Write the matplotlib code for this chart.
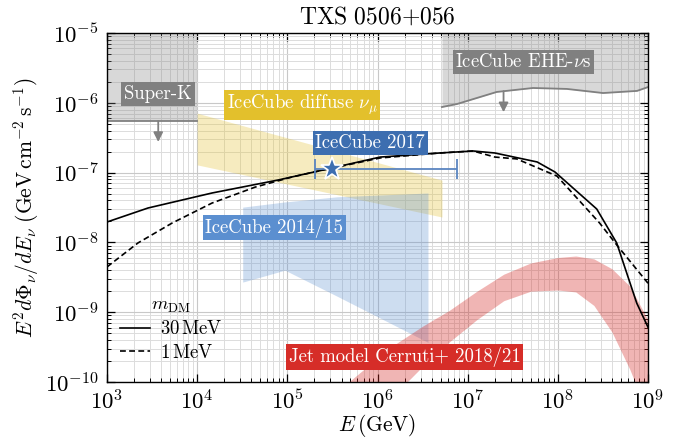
import numpy as np
import matplotlib
matplotlib.use('Agg')
import matplotlib.pyplot as plt
from matplotlib.ticker import LogLocator, NullFormatter
from matplotlib.lines import Line2D

plt.rcParams.update({
    'font.family': 'serif',
    'font.serif': ['cmr10'],
    'mathtext.fontset': 'cm',
    'axes.formatter.use_mathtext': True,
})

# ---------------- data ----------------
# DM-induced neutrino flux, m_DM = 30 MeV (solid)
E_30 = [1e3, 2.85e3, 1.46e4, 7.9e4, 2.19e5, 1.07e6, 4.9e6, 1.15e7, 2.0e7,
        5.9e7, 9.3e7, 2.7e8, 4.5e8, 7.5e8, 1e9]
F_30 = [1.96e-8, 3.11e-8, 5.1e-8, 7.83e-8, 1.05e-7, 1.67e-7, 1.91e-7, 2.04e-7,
        1.91e-7, 1.42e-7, 1.02e-7, 3.01e-8, 9.8e-9, 1.35e-9, 6.1e-10]
# m_DM = 1 MeV (dashed)
E_1 = [1e3, 2.2e3, 5.3e3, 1.46e4, 4.4e4, 1.13e5, 2.19e5, 1.07e6, 4.9e6,
       1.15e7, 2.0e7, 3.5e7, 9.8e7, 2.9e8, 4.5e8, 1e9]
F_1 = [4.45e-9, 9.8e-9, 1.9e-8, 3.66e-8, 6.2e-8, 8.65e-8, 1.05e-7, 1.62e-7,
       1.91e-7, 2.04e-7, 1.67e-7, 1.57e-7, 8.9e-8, 1.9e-8, 9.2e-9, 2.6e-9]

# Jet model Cerruti+ 2018/21 band
E_jet = [3.98e5, 7.94e5, 1.58e6, 3.16e6, 6.31e6, 1.26e7, 2.51e7, 5.01e7,
         1e8, 1.58e8, 2.51e8, 3.98e8, 6.31e8, 1e9]
F_jet_hi = [8.2e-11, 1.72e-10, 3.5e-10, 6.3e-10, 1.07e-9, 1.99e-9, 3.5e-9,
            5.08e-9, 6.08e-9, 6.38e-9, 5.81e-9, 4.19e-9, 2.35e-9, 7.7e-10]
F_jet_lo = [1.13e-11, 2.8e-11, 6.8e-11, 1.67e-10, 3.78e-10, 7.8e-10, 1.46e-9,
            2.0e-9, 2.08e-9, 1.95e-9, 1.25e-9, 5.2e-10, 1.5e-10, 3.4e-11]

# IceCube 2014/15 band
E_ic15 = [3.2e4, 9.4e4, 3.55e5, 3.63e6]
F_ic15_hi = [3.2e-8, 3.8e-8, 4.5e-8, 5.1e-8]
F_ic15_lo = [2.7e-9, 4.0e-9, 1.7e-9, 3.7e-10]

# IceCube diffuse nu_mu band
E_diff = [1e4, 5.19e6]
F_diff_hi = [7.1e-7, 7.8e-8]
F_diff_lo = [1.29e-7, 2.31e-8]

# IceCube 2017 point
E_17 = 3.1e5
F_17 = 1.13e-7
E_17_lo = 2.03e5
E_17_hi = 7.6e6

# Super-K limit
E_sk = [1e3, 1e4]
F_sk = 5.5e-7
E_sk_arrow = 3.7e3

# IceCube EHE limit
E_ehe = [5.19e6, 7.6e6, 2.1e7, 5.3e7, 1.26e8, 3.17e8, 7.55e8, 1e9]
F_ehe = [8.7e-7, 9.6e-7, 1.43e-6, 1.63e-6, 1.58e-6, 1.38e-6, 1.48e-6, 1.68e-6]
E_ehe_arrow = 2.5e7

xticks = [1e3, 1e4, 1e5, 1e6, 1e7, 1e8, 1e9]
yticks = [1e-10, 1e-9, 1e-8, 1e-7, 1e-6, 1e-5]

# colours
c_gray = '#808080'
c_gold = '#e3c02c'
c_blue17 = '#3d6eb0'
c_blue15 = '#5b8fd0'
c_red = '#d62d28'

fig = plt.figure(figsize=(6.78, 4.38), dpi=100)
ax = fig.add_axes([107/678, 1-382/438, (648-107)/678, (382-33)/438])
ax.set_xscale('log')
ax.set_yscale('log')
ax.set_xlim(1e3, 1e9)
ax.set_ylim(1e-10, 1e-5)

ax.set_xticks(xticks)
ax.set_yticks(yticks)
ax.xaxis.set_minor_locator(LogLocator(base=10, subs=np.arange(2, 10), numticks=20))
ax.yaxis.set_minor_locator(LogLocator(base=10, subs=np.arange(2, 10), numticks=20))
ax.xaxis.set_minor_formatter(NullFormatter())
ax.yaxis.set_minor_formatter(NullFormatter())
ax.tick_params(which='both', direction='in', top=True, right=True, labelsize=16.5)
ax.tick_params(which='major', length=6, width=0.9, pad=6)
ax.tick_params(axis='x', which='major', pad=5)
ax.tick_params(which='minor', length=3, width=0.7)
ax.grid(True, which='major', color='#c8c8c8', lw=0.8, zorder=0)
ax.grid(True, which='minor', color='#dcdcdc', lw=0.7, zorder=0)
ax.set_axisbelow(True)
for s in ax.spines.values():
    s.set_linewidth(1.0)

# Super-K
ax.fill_between(E_sk, [F_sk, F_sk], [1e-5, 1e-5], color=c_gray, alpha=0.3, lw=0, zorder=1)
ax.plot(E_sk, [F_sk, F_sk], color=c_gray, lw=1.3, zorder=2)
ax.annotate('', xy=(E_sk_arrow, F_sk * 0.5), xytext=(E_sk_arrow, F_sk),
            arrowprops=dict(arrowstyle='-|>', color=c_gray, lw=1.3, mutation_scale=14,
                            shrinkA=0, shrinkB=0), zorder=2)

# EHE
ax.fill_between(E_ehe, F_ehe, [1e-5] * len(E_ehe), color=c_gray, alpha=0.3, lw=0, zorder=1)
ax.plot(E_ehe, F_ehe, color=c_gray, lw=1.3, zorder=2)
F_ehe_arrow = float(np.interp(np.log10(E_ehe_arrow), np.log10(E_ehe), np.log10(F_ehe)))
F_ehe_arrow = 10 ** F_ehe_arrow
ax.annotate('', xy=(E_ehe_arrow, F_ehe_arrow * 0.5), xytext=(E_ehe_arrow, F_ehe_arrow),
            arrowprops=dict(arrowstyle='-|>', color=c_gray, lw=1.3, mutation_scale=14,
                            shrinkA=0, shrinkB=0), zorder=2)

# bands
ax.fill_between(E_diff, F_diff_lo, F_diff_hi, color=c_gold, alpha=0.3, lw=0, zorder=1)
ax.fill_between(E_ic15, F_ic15_lo, F_ic15_hi, color=c_blue15, alpha=0.3, lw=0, zorder=1)
ax.fill_between(E_jet, F_jet_lo, F_jet_hi, color=c_red, alpha=0.35, lw=0, zorder=1)

# curves
ax.plot(E_30, F_30, color='k', lw=1.2, ls='-', zorder=3)
ax.plot(E_1, F_1, color='k', lw=1.2, ls=(0, (3.5, 2)), zorder=3)

# IceCube 2017
ax.errorbar([E_17], [F_17], xerr=[[E_17 - E_17_lo], [E_17_hi - E_17]], fmt='none',
            ecolor='#5a85c0', elinewidth=1.3, capsize=7, capthick=1.3, zorder=4)
ax.plot([E_17], [F_17], marker='*', ms=17, color=c_blue17, mec='white', mew=1.2,
        ls='none', zorder=5)

# labels
def label(x, y, s, fc):
    ax.text(x, y, s, ha='center', va='center', color='white', fontsize=13.5, zorder=6,
            bbox=dict(boxstyle='square,pad=0.15', fc=fc, ec='none'))

label(3.68e3, 1.34e-6, 'Super-K', c_gray)
label(1.46e5, 9.3e-7, r'IceCube diffuse $\nu_\mu$', c_gold)
label(8.3e5, 2.65e-7, 'IceCube 2017', c_blue17)
label(7.2e4, 1.63e-8, 'IceCube 2014/15', c_blue15)
label(2.0e6, 2.28e-10, 'Jet model Cerruti+ 2018/21', c_red)
label(4.16e7, 3.85e-6, r'IceCube EHE-$\nu$s', c_gray)

# legend
handles = [Line2D([], [], color='k', lw=1.2, ls='-'),
           Line2D([], [], color='k', lw=1.2, ls=(0, (3.5, 2)))]
leg = ax.legend(handles, [r'$30\,\mathrm{MeV}$', r'$1\,\mathrm{MeV}$'],
                title=r'$m_{\rm DM}$', loc='lower left', bbox_to_anchor=(0.0, 0.02),
                frameon=False, fontsize=13.5, title_fontsize=13.5, handlelength=1.6,
                handletextpad=0.5, labelspacing=0.3, borderaxespad=0.3)

ax.set_xlabel(r'$E\,(\mathrm{GeV})$', fontsize=15.5, labelpad=-1)
ax.set_ylabel(r'$E^2 d\Phi_\nu/dE_\nu\;(\mathrm{GeV\,cm^{-2}\,s^{-1}})$', fontsize=15.5, labelpad=3)
ax.set_title(r'$\mathrm{TXS\ 0506{+}056}$', fontsize=17, pad=7)

fig.savefig('out.png', dpi=100)
